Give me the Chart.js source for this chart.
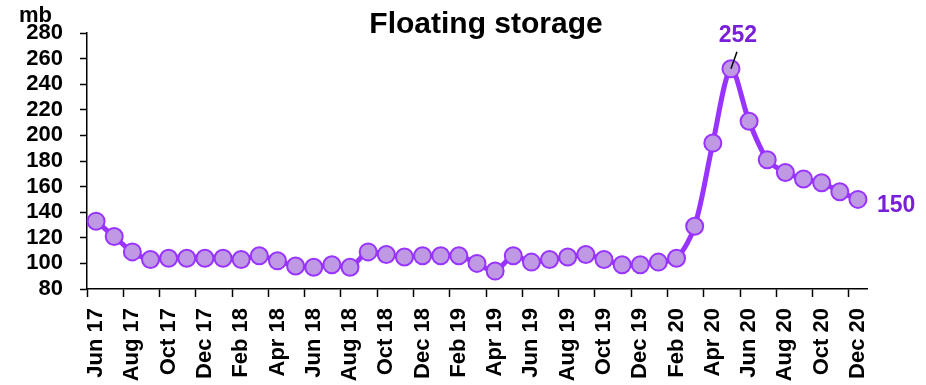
<!DOCTYPE html>
<html>
<head>
<meta charset="utf-8">
<script src="https://cdn.jsdelivr.net/npm/chart.js@4/dist/chart.umd.min.js"></script>
<style>
  html, body { margin: 0; padding: 0; background: #fff; }
  #wrap { width: 926px; height: 385px; position: relative; }
</style>
</head>
<body>
<div id="wrap"><canvas id="c"></canvas></div>
<script>
// Monthly floating storage, million barrels
const months = [
  'Jun 17','Jul 17','Aug 17','Sep 17','Oct 17','Nov 17','Dec 17',
  'Jan 18','Feb 18','Mar 18','Apr 18','May 18','Jun 18','Jul 18','Aug 18','Sep 18','Oct 18','Nov 18','Dec 18',
  'Jan 19','Feb 19','Mar 19','Apr 19','May 19','Jun 19','Jul 19','Aug 19','Sep 19','Oct 19','Nov 19','Dec 19',
  'Jan 20','Feb 20','Mar 20','Apr 20','May 20','Jun 20','Jul 20','Aug 20','Sep 20','Oct 20','Nov 20','Dec 20'
];
const storage = [
  133, 121, 109, 103, 104, 104, 104,
  104, 103, 106, 102, 98, 97, 99, 97, 109, 107, 105, 106,
  106, 106, 100, 94, 106, 101, 103, 105, 107, 103, 99, 99,
  101, 104, 129, 194, 252, 211, 181, 171, 166, 163, 156, 150
];
const yTicks = { min: 80, max: 280, step: 20 };
// Points that carry a value label
const labelledIdx = [35, 42];

const LINE = '#9933ff';
const FILL = '#bf99e3';
const LABEL = '#7a1fd9';
const FONT = '"Liberation Sans", Arial, sans-serif';

const decorations = {
  id: 'decorations',
  afterDatasetsDraw(chart) {
    const ctx = chart.ctx;
    const meta = chart.getDatasetMeta(0);
    ctx.save();
    // title and unit
    ctx.fillStyle = '#000';
    ctx.textBaseline = 'alphabetic';
    ctx.textAlign = 'center';
    ctx.font = 'bold 30px ' + FONT;
    ctx.fillText('Floating storage', 486, 33);
    ctx.textAlign = 'left';
    ctx.font = 'bold 22px ' + FONT;
    ctx.fillText('mb', 19, 22);

    // peak label with leader line
    const peak = meta.data[labelledIdx[0]];
    ctx.strokeStyle = '#000';
    ctx.lineWidth = 1.5;
    ctx.beginPath();
    ctx.moveTo(peak.x, peak.y);
    ctx.lineTo(peak.x + 6, peak.y - 17);
    ctx.stroke();
    ctx.fillStyle = LABEL;
    ctx.textAlign = 'center';
    ctx.font = 'bold 23px ' + FONT;
    ctx.fillText(String(storage[labelledIdx[0]]), peak.x + 7, peak.y - 27);

    // last value label
    const last = meta.data[labelledIdx[1]];
    ctx.textAlign = 'left';
    ctx.textBaseline = 'middle';
    ctx.fillText(String(storage[labelledIdx[1]]), last.x + 19, last.y + 6);
    ctx.restore();
  }
};

new Chart(document.getElementById('c'), {
  type: 'line',
  data: {
    labels: months,
    datasets: [{
      data: storage,
      borderColor: LINE,
      borderWidth: 5,
      tension: 0.3,
      pointRadius: 8.5,
      pointHoverRadius: 8.5,
      pointBackgroundColor: FILL,
      pointBorderColor: LINE,
      pointBorderWidth: 2,
      clip: false
    }]
  },
  options: {
    responsive: true,
    maintainAspectRatio: false,
    animation: false,
    layout: { padding: { top: 33, right: 59, left: 0, bottom: 0 } },
    plugins: { legend: { display: false }, tooltip: { enabled: false }, title: { display: false } },
    scales: {
      x: {
        type: 'category',
        offset: true,
        afterFit(scale) { scale.height = 96; },
        grid: {
          offset: true,
          drawOnChartArea: false,
          tickLength: 8,
          tickWidth: 1.5,
          tickColor: (c) => (c.index % 2 === 0 ? '#000' : 'rgba(0,0,0,0)')
        },
        border: { color: '#000', width: 1.5 },
        ticks: {
          autoSkip: false,
          maxRotation: 90,
          minRotation: 90,
          padding: 11,
          color: '#000',
          font: { family: FONT, size: 22, weight: 'bold' },
          callback(v, i) { return i % 2 === 0 ? months[i] : ''; }
        }
      },
      y: {
        min: yTicks.min,
        max: yTicks.max,
        afterFit(scale) { scale.width = 87; },
        grid: {
          drawOnChartArea: false,
          tickLength: 7,
          tickWidth: 1.5,
          tickColor: '#000'
        },
        border: { color: '#000', width: 1.5 },
        ticks: {
          autoSkip: false,
          stepSize: yTicks.step,
          padding: 17,
          color: '#000',
          font: { family: FONT, size: 22, weight: 'bold' }
        }
      }
    }
  },
  plugins: [decorations]
});
</script>
</body>
</html>
